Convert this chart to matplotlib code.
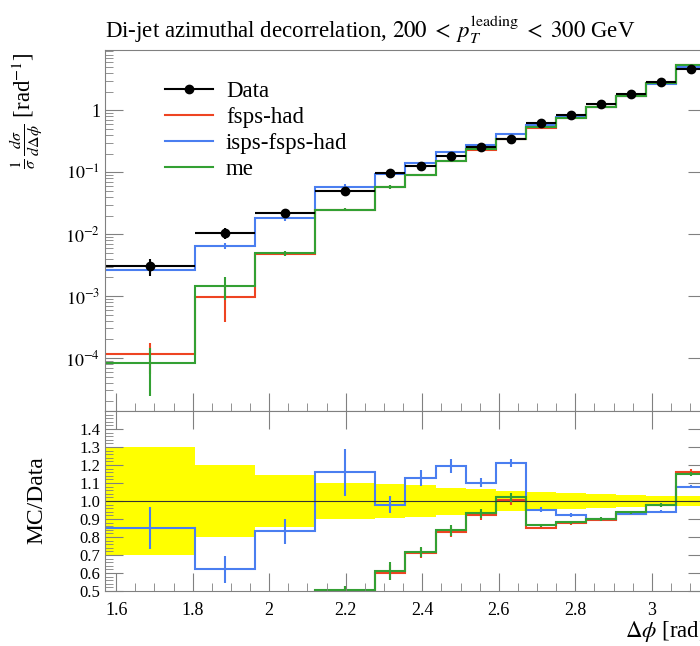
import numpy as np
import matplotlib
matplotlib.use('Agg')
import matplotlib.pyplot as plt
from matplotlib.lines import Line2D
from matplotlib.ticker import FixedLocator, MultipleLocator, LogLocator, FuncFormatter, NullFormatter

plt.rcParams['font.family'] = 'Liberation Serif'
plt.rcParams['mathtext.fontset'] = 'stix'

# Bin edges in units of pi/40
edge_units = [20, 23, 25, 27, 29, 30, 31, 32, 33, 34, 35, 36, 37, 38, 39, 40]

# Data (normalised cross section) and relative uncertainty
data = [3.07e-3, 1.05e-2, 2.19e-2, 4.98e-2, 9.64e-2, 0.126, 0.181, 0.254, 0.342,
        0.621, 0.855, 1.26, 1.85, 2.86, 4.64]
data_rel = [0.30, 0.20, 0.145, 0.098, 0.097, 0.09, 0.075, 0.067, 0.058,
            0.048, 0.042, 0.039, 0.034, 0.030, 0.029]

# MC predictions and relative stat. errors
fsps_had = [1.16e-4, 9.5e-4, 4.85e-3, 0.0250, 0.0581, 0.0895, 0.150, 0.234, 0.343,
            0.529, 0.749, 1.128, 1.72, 2.79, 5.40]
fsps_had_rel = [0.52, 0.60, 0.08, 0.05, 0.07, 0.04, 0.035, 0.027, 0.024,
                0.01, 0.01, 0.01, 0.01, 0.01, 0.01]
isps_fsps_had = [2.61e-3, 6.51e-3, 0.0182, 0.0577, 0.0944, 0.142, 0.216, 0.280, 0.414,
                 0.591, 0.790, 1.131, 1.72, 2.69, 5.01]
isps_fsps_had_rel = [0.138, 0.121, 0.084, 0.112, 0.047, 0.041, 0.034, 0.022, 0.017,
                     0.013, 0.011, 0.009, 0.009, 0.008, 0.007]
me = [8.4e-5, 1.45e-3, 4.89e-3, 0.0251, 0.0588, 0.0903, 0.1515, 0.237, 0.349,
      0.537, 0.753, 1.134, 1.735, 2.80, 5.34]
me_rel = [0.71, 0.41, 0.08, 0.05, 0.08, 0.04, 0.036, 0.027, 0.024,
          0.01, 0.01, 0.01, 0.01, 0.01, 0.01]

edges = np.array(edge_units) * np.pi / 40
centers = 0.5 * (edges[1:] + edges[:-1])
half = 0.5 * (edges[1:] - edges[:-1])
data = np.array(data)
derr = data * np.array(data_rel)

mcs = [('fsps-had', fsps_had, fsps_had_rel, '#ee4422'),
       ('isps-fsps-had', isps_fsps_had, isps_fsps_had_rel, '#4a7ef0'),
       ('me', me, me_rel, '#33a033')]

W, H = 700, 646
fig = plt.figure(figsize=(7, 6.46), dpi=100)
ax = fig.add_axes([105 / W, 1 - 411 / H, 601 / W, 361 / H])
rax = fig.add_axes([105 / W, 1 - 591 / H, 601 / W, 180 / H])

frame = '#808080'
for a in (ax, rax):
    for s in a.spines.values():
        s.set_color(frame)
    a.set_xlim(np.pi / 2, np.pi)
    a.xaxis.set_major_locator(MultipleLocator(0.2))
    a.xaxis.set_minor_locator(MultipleLocator(0.05))
    a.tick_params(which='both', direction='in', color=frame, labelsize=13)
    a.tick_params(which='major', length=13)
    a.tick_params(which='minor', length=6)

# main panel
for name, vals, rel, col in mcs:
    vals = np.array(vals)
    ax.stairs(vals, edges, baseline=None, color=col, lw=1.5)
    ax.errorbar(centers, vals, yerr=vals * np.array(rel), fmt='none', ecolor=col, lw=1.5)
ax.errorbar(centers, data, xerr=half, yerr=derr, fmt='o', color='black', ms=6,
            lw=1.5, capsize=0)
ax.set_yscale('log')
ax.set_ylim(1.39e-5, 9.5)
ax.yaxis.set_major_locator(FixedLocator([1e-4, 1e-3, 1e-2, 1e-1, 1]))
ax.yaxis.set_minor_locator(LogLocator(base=10, subs=np.arange(2, 10), numticks=20))
ax.yaxis.set_minor_formatter(NullFormatter())
ax.yaxis.set_major_formatter(FuncFormatter(
    lambda v, p: '1' if abs(v - 1) < 1e-9 else '$10^{%d}$' % round(np.log10(v))))
ax.tick_params(axis='x', labelbottom=False, top=False, bottom=True)
ax.tick_params(axis='y', right=True)

handles = [Line2D([], [], color='black', marker='o', ms=6, lw=1.5)]
for name, vals, rel, col in mcs:
    handles.append(Line2D([], [], color=col, lw=1.5))
ax.legend(handles, ['Data'] + [m[0] for m in mcs], loc='upper left',
          bbox_to_anchor=(0.085, 0.94), frameon=False, fontsize=16.5,
          handlelength=2.1, handletextpad=0.55, numpoints=1, labelspacing=0.22,
          borderaxespad=0)

# ratio panel
lo = 1 - np.array(data_rel)
hi = 1 + np.array(data_rel)
rax.stairs(hi, edges, baseline=lo, fill=True, color='#ffff00', lw=0)
rax.axhline(1.0, color='#333333', lw=0.8)
for name, vals, rel, col in mcs:
    vals = np.array(vals)
    r = vals / data
    rax.stairs(r, edges, baseline=None, color=col, lw=1.5)
    rax.errorbar(centers, r, yerr=r * np.array(rel), fmt='none', ecolor=col, lw=1.5)
rax.set_ylim(0.5, 1.5)
rax.yaxis.set_major_locator(FixedLocator(np.arange(0.5, 1.45, 0.1)))
rax.yaxis.set_minor_locator(MultipleLocator(0.02))
rax.yaxis.set_major_formatter(FuncFormatter(lambda v, p: '%.1f' % v))
rax.tick_params(axis='x', top=True, pad=8)
rax.tick_params(axis='y', right=True, labelsize=12)
rax.set_xticks([1.6, 1.8, 2.0, 2.2, 2.4, 2.6, 2.8, 3.0])
rax.set_xticklabels(['1.6', '1.8', '2', '2.2', '2.4', '2.6', '2.8', '3'])

fig.text(105 / W, 1 - 38 / H,
         'Di-jet azimuthal decorrelation, $200\\;<\\;p_T^{\\mathrm{leading}}\\;<\\;300$ GeV',
         fontsize=16.5, ha='left', va='baseline')
fig.text(27 / W, 1 - 52 / H, '$\\frac{1}{\\sigma}\\,\\frac{d\\sigma}{d\\Delta\\phi}$ [rad$^{-1}$]',
         fontsize=16.5, rotation=90, ha='center', va='top')
fig.text(37 / W, 1 - 500 / H, 'MC/Data', fontsize=17, rotation=90, ha='center', va='center')
fig.text(706 / W, 1 - 632 / H, '$\\Delta\\phi$ [rad]', fontsize=16.5, ha='right', va='center')

fig.savefig('out.png', dpi=100)
